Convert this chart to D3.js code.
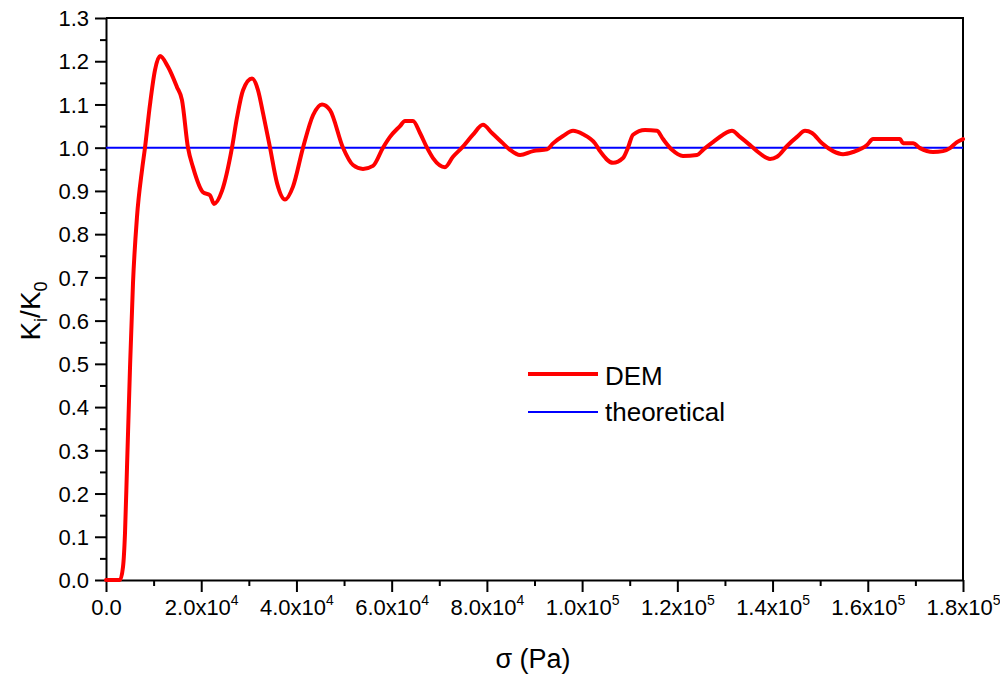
<!DOCTYPE html>
<html>
<head>
<meta charset="utf-8">
<script src="https://d3js.org/d3.v7.min.js"></script>
<style>
  body { margin: 0; background: #fff; }
  svg text { font-family: "Liberation Sans", Arial, sans-serif; fill: #000; }
</style>
</head>
<body>
<div id="chart"></div>
<script>
// sigma in Pa, DEM Ki/K0 ratio
const sigma = [0, 2940, 3570, 3990, 4410, 5040, 5670, 6510, 7560, 8190, 9240, 10300, 11340, 13020, 14910, 15960,
  17220, 18270, 20370, 21840, 22680, 24360, 26460, 27520, 28780, 30670, 31930, 32980, 34450, 35920, 37600, 39280,
  41380, 43480, 45370, 47050, 49780, 51880, 53980, 56080, 58180, 59650, 61750, 62800, 64480, 65950, 67420, 68680,
  71200, 72880, 74770, 77080, 79180, 81070, 83390, 84860, 86960, 89690, 92630, 93890, 95990, 98090, 100190, 102710,
  103760, 106490, 108590, 109640, 110690, 113210, 115730, 116990, 118880, 121190, 124130, 125390, 127490, 129590,
  131480, 133160, 135270, 136950, 139470, 140940, 143040, 145140, 146820, 148290, 150390, 152700, 154800, 156900,
  159840, 161100, 166770, 167400, 169500, 170970, 173700, 175800, 177270, 178740, 180000];
const demRatio = [0, 0, 0.03, 0.108, 0.26, 0.49, 0.687, 0.84, 0.948, 1.0, 1.10, 1.18, 1.212, 1.187, 1.14, 1.11,
  1.0, 0.955, 0.897, 0.89, 0.87, 0.90, 1.0, 1.07, 1.133, 1.16, 1.133, 1.08, 1.0, 0.918, 0.88, 0.91,
  1.0, 1.075, 1.10, 1.087, 1.0, 0.96, 0.951, 0.958, 1.0, 1.025, 1.05, 1.062, 1.062, 1.034, 1.0, 0.976,
  0.955, 0.979, 1.0, 1.03, 1.053, 1.034, 1.01, 0.995, 0.983, 0.992, 0.996, 1.01, 1.027, 1.039, 1.031, 1.01,
  0.992, 0.965, 0.976, 1.0, 1.03, 1.041, 1.039, 1.02, 0.995, 0.981, 0.983, 0.995, 1.013, 1.03,
  1.039, 1.025, 1.006, 0.99, 0.974, 0.979, 1.004, 1.025, 1.039, 1.034, 1.01, 0.992, 0.985, 0.99,
  1.006, 1.02, 1.02, 1.01, 1.01, 0.999, 0.99, 0.992, 0.999, 1.013, 1.02];
const theoretical = 1.0;

const xMajor = [0, 20000, 40000, 60000, 80000, 100000, 120000, 140000, 160000, 180000];
const xMinor = [10000, 30000, 50000, 70000, 90000, 110000, 130000, 150000, 170000];
const xTickMant = ["0.0", "2.0", "4.0", "6.0", "8.0", "1.0", "1.2", "1.4", "1.6", "1.8"];
const xTickExp = ["", "4", "4", "4", "4", "5", "5", "5", "5", "5"];
const yMajor = d3.range(0, 14).map(i => i / 10);
const yMinor = d3.range(0, 13).map(i => i / 10 + 0.05);

const W = 1000, H = 675;
const mLeft = 106, mRight = 963, mTop = 18, mBottom = 580;

const svg = d3.select('#chart').append('svg').attr('width', W).attr('height', H);

const x = d3.scaleLinear().domain([0, 180000]).range([mLeft, mRight]);
const y = d3.scaleLinear().domain([0, 1.3]).range([mBottom, mTop]);

// minor ticks
svg.append('g').attr('transform', `translate(0,${mBottom})`)
  .call(d3.axisBottom(x).tickValues(xMinor).tickSize(6).tickFormat(''))
  .call(g => g.select('.domain').remove());
svg.append('g').attr('transform', `translate(${mLeft},0)`)
  .call(d3.axisLeft(y).tickValues(yMinor).tickSize(6).tickFormat(''))
  .call(g => g.select('.domain').remove());

// major x axis
const gx = svg.append('g').attr('transform', `translate(0,${mBottom})`)
  .call(d3.axisBottom(x).tickValues(xMajor).tickSize(12).tickSizeOuter(0).tickFormat(''));
gx.selectAll('.tick').each(function(d, i) {
  const t = d3.select(this).append('text')
    .attr('y', 35).attr('font-size', 22).attr('text-anchor', 'middle');
  if (xTickExp[i] === '') {
    t.text(xTickMant[i]);
  } else {
    t.append('tspan').text(xTickMant[i] + 'x10');
    t.append('tspan').attr('font-size', 14).attr('dy', -10).text(xTickExp[i]);
  }
});

// major y axis
const gy = svg.append('g').attr('transform', `translate(${mLeft},0)`)
  .call(d3.axisLeft(y).tickValues(yMajor).tickSize(11).tickSizeOuter(0).tickFormat(d3.format('.1f')));
gy.selectAll('.tick text').attr('font-size', 22).attr('x', -17).attr('dy', '0.35em');

svg.selectAll('.domain, .tick line').attr('stroke', '#000').attr('stroke-width', 2);

// frame top/right
svg.append('path')
  .attr('d', `M${mLeft},${mTop}H${mRight}V${mBottom}`)
  .attr('fill', 'none').attr('stroke', '#000').attr('stroke-width', 2);

// theoretical line
svg.append('line')
  .attr('x1', x(0)).attr('x2', x(180000))
  .attr('y1', y(theoretical)).attr('y2', y(theoretical))
  .attr('stroke', '#0000ff').attr('stroke-width', 2);

// DEM curve
const line = d3.line().x(d => x(d[0])).y(d => y(d[1])).curve(d3.curveMonotoneX);
svg.append('path')
  .datum(sigma.map((s, i) => [s, demRatio[i]]))
  .attr('d', line)
  .attr('fill', 'none').attr('stroke', '#ff0000').attr('stroke-width', 4)
  .attr('stroke-linejoin', 'round').attr('stroke-linecap', 'round');

// legend
const lg = svg.append('g');
lg.append('line').attr('x1', 528).attr('x2', 598).attr('y1', 374).attr('y2', 374)
  .attr('stroke', '#ff0000').attr('stroke-width', 4);
lg.append('text').attr('x', 605).attr('y', 385).attr('font-size', 26).text('DEM');
lg.append('line').attr('x1', 528).attr('x2', 598).attr('y1', 412).attr('y2', 412)
  .attr('stroke', '#0000ff').attr('stroke-width', 2);
lg.append('text').attr('x', 605).attr('y', 421).attr('font-size', 26).text('theoretical');

// axis titles
svg.append('text').attr('x', 533).attr('y', 668).attr('font-size', 27)
  .attr('text-anchor', 'middle').text('σ (Pa)');

const yt = svg.append('text').attr('transform', 'translate(40,311) rotate(-90)')
  .attr('font-size', 28).attr('text-anchor', 'middle');
yt.append('tspan').text('K');
yt.append('tspan').attr('font-size', 18).attr('dy', 7).text('i');
yt.append('tspan').attr('dy', -7).text('/K');
yt.append('tspan').attr('font-size', 18).attr('dy', 7).text('0');
</script>
</body>
</html>
